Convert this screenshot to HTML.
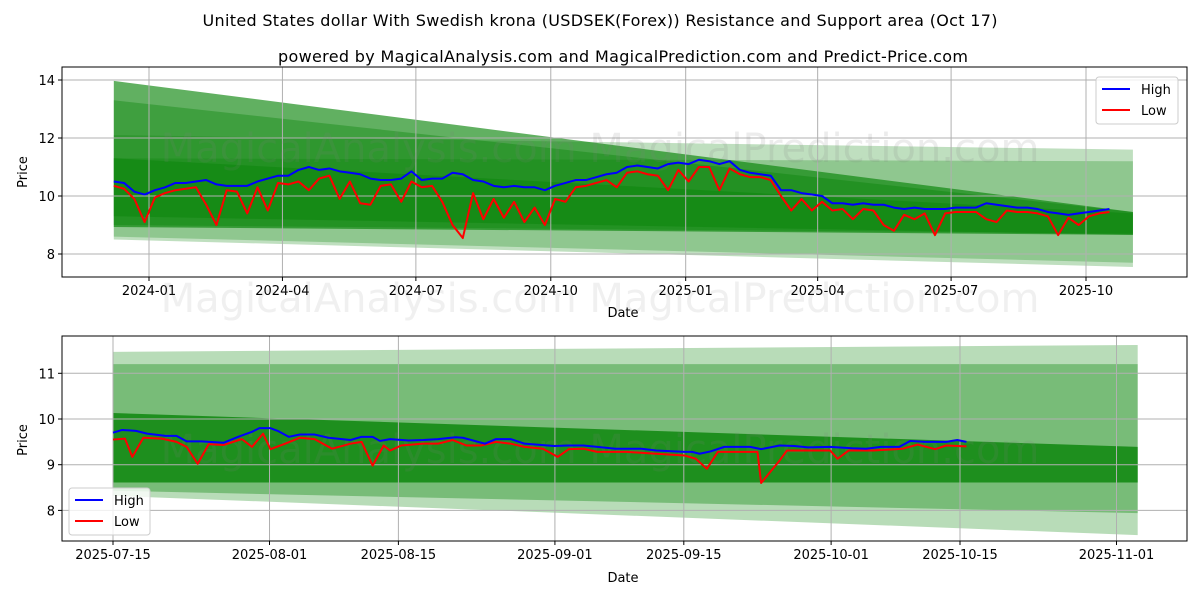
<!DOCTYPE html>
<html><head><meta charset="utf-8"><style>
html,body{margin:0;padding:0;background:#fff;}
svg{display:block;font-family:"DejaVu Sans","Liberation Sans",sans-serif;}
</style></head><body>
<svg id="c" width="1200" height="600" viewBox="0 0 1200 600" xmlns="http://www.w3.org/2000/svg">
<rect width="1200" height="600" fill="#fff"/>
<text x="600" y="26" text-anchor="middle" font-size="16" textLength="795">United States dollar With Swedish krona (USDSEK(Forex)) Resistance and Support area (Oct 17)</text>
<text x="623" y="62" text-anchor="middle" font-size="16" textLength="690">powered by MagicalAnalysis.com and MagicalPrediction.com and Predict-Price.com</text>
<g id="top"></g>
<g id="bot"></g>
</svg>
<script>
// ---- top chart data (weekly from 2023-12-08) ----
const topStart = "2023-12-08";
const topHigh = [10.5,10.45,10.15,10.05,10.2,10.3,10.45,10.45,10.5,10.55,10.4,10.35,10.35,10.35,10.5,10.6,10.7,10.7,10.9,11.0,10.9,10.95,10.85,10.8,10.75,10.6,10.55,10.55,10.6,10.85,10.55,10.6,10.6,10.8,10.75,10.55,10.5,10.35,10.3,10.35,10.3,10.3,10.2,10.35,10.45,10.55,10.55,10.65,10.75,10.8,11.0,11.05,11.0,10.95,11.1,11.15,11.1,11.25,11.2,11.1,11.2,10.9,10.8,10.75,10.7,10.2,10.2,10.1,10.05,10.0,9.75,9.75,9.7,9.75,9.7,9.7,9.6,9.55,9.6,9.55,9.55,9.55,9.6,9.6,9.6,9.75,9.7,9.65,9.6,9.6,9.55,9.45,9.4,9.35,9.4,9.45,9.5,9.55];
const topLow = [10.35,10.25,9.9,9.1,9.95,10.1,10.2,10.25,10.3,9.7,9.0,10.2,10.15,9.4,10.3,9.5,10.45,10.4,10.5,10.2,10.6,10.7,9.9,10.5,9.75,9.7,10.35,10.4,9.8,10.5,10.3,10.35,9.8,9.0,8.55,10.1,9.2,9.9,9.25,9.8,9.1,9.6,9.0,9.9,9.8,10.3,10.35,10.45,10.55,10.3,10.8,10.85,10.75,10.7,10.2,10.9,10.5,11.0,11.0,10.2,10.95,10.75,10.65,10.65,10.55,10.0,9.5,9.9,9.5,9.8,9.5,9.55,9.2,9.55,9.5,9.0,8.8,9.35,9.2,9.4,8.65,9.4,9.45,9.45,9.45,9.2,9.1,9.5,9.45,9.45,9.4,9.3,8.65,9.25,9.0,9.3,9.4,9.45];
const topTickLabels = ["2024-01","2024-04","2024-07","2024-10","2025-01","2025-04","2025-07","2025-10"];
const topYTicks = [8,10,12,14];
const topBandStart = "2023-12-08", topBandEnd = "2025-11-02";
const topBandTopStart = [13.97,13.3,12.1,11.3,11.3];
const topBandTopEnd   = [9.45,9.45,11.6,11.2,9.4];
const topBandBotStart = [8.93,9.3,8.5,8.6,9.0];
const topBandBotEnd   = [8.66,8.66,7.55,7.7,8.7];
const topBandAlpha    = [0.62,0.35,0.25,0.25,0.35];

// ---- bottom chart data (days since 2025-07-15) ----
const botStart = "2025-07-15";
const botHighDays = [0,1,2.5,3.7,5.7,6.9,8,9.6,12,13.6,15.1,15.9,17.1,17.9,19.1,20.3,21.9,23.4,25.8,27,28.2,29,30.1,32.1,33.7,35.3,37.2,38,40.4,41.6,43.2,44.7,47.9,49.5,51.1,52.6,54.6,57.4,59,62.1,62.9,63.7,64.9,66.4,68,69.2,70.4,72.4,74,75.5,77.9,80.3,81.8,83.4,85.4,86.6,88.2,90.5,91.7,92.7];
const botHighVals = [9.70,9.76,9.74,9.68,9.63,9.63,9.51,9.51,9.48,9.61,9.72,9.80,9.80,9.74,9.61,9.66,9.66,9.59,9.54,9.61,9.61,9.52,9.56,9.53,9.54,9.56,9.60,9.59,9.46,9.56,9.56,9.46,9.41,9.42,9.42,9.39,9.35,9.35,9.31,9.28,9.28,9.24,9.29,9.39,9.39,9.39,9.34,9.42,9.41,9.38,9.39,9.36,9.35,9.39,9.39,9.52,9.50,9.50,9.54,9.50];
const botLowDays = [0,1.3,2.1,3.3,5.3,6.9,8,9.2,10.4,12,14,15.1,16.3,17.1,18.7,20.3,21.9,23.8,25.8,27,28.2,29.4,30.1,31.3,33.7,35.3,36.9,38.4,40,41.6,43.2,44.7,46.7,48.3,49.5,51.1,52.6,55.8,59,62.1,63.3,64.5,65.7,68.4,70,70.4,72.4,73.2,75.5,77.9,78.7,79.9,82.6,85.8,87.4,89.3,90.5,92.7];
const botLowVals = [9.55,9.57,9.17,9.59,9.57,9.50,9.39,9.02,9.45,9.43,9.56,9.39,9.68,9.34,9.46,9.59,9.56,9.35,9.46,9.50,8.98,9.42,9.31,9.42,9.46,9.46,9.54,9.42,9.42,9.50,9.46,9.39,9.35,9.17,9.34,9.35,9.28,9.28,9.24,9.20,9.13,8.91,9.28,9.28,9.28,8.60,9.09,9.31,9.31,9.31,9.13,9.31,9.31,9.35,9.44,9.34,9.42,9.40];
const botTickLabels = ["2025-07-15","2025-08-01","2025-08-15","2025-09-01","2025-09-15","2025-10-01","2025-10-15","2025-11-01"];
const botYTicks = [8,9,10,11];
const botBandEndDay = 111.3;
const botBandTopStart = [11.47,11.2,10.13];
const botBandTopEnd   = [11.62,11.2,9.39];
const botBandBotStart = [8.32,8.43,8.61];
const botBandBotEnd   = [7.46,7.94,8.61];
const botBandAlpha    = [0.28,0.35,0.75];

const NS="http://www.w3.org/2000/svg";
function mk(parent,tag,attrs){const e=document.createElementNS(NS,tag);for(const k in attrs)e.setAttribute(k,attrs[k]);parent.appendChild(e);return e;}
const DAY=86400000;
function dnum(s){return Date.parse(s+"T00:00:00Z")/DAY;}

// ---------- TOP ----------
(function(){
  const g=document.getElementById('top');
  const L=62,R=1187,T=67,B=277;
  const x0=dnum("2024-01-01"),x1=dnum("2025-10-01");
  const X=d=>149+(d-x0)*(1086-149)/(x1-x0);
  const Y=v=>196-(v-10)*29;
  const bs=X(dnum(topBandStart)),be=X(dnum(topBandEnd));
  for(let i=0;i<topBandAlpha.length;i++){
    const p=mk(g,'polygon',{points:`${bs},${Y(topBandTopStart[i])} ${be},${Y(topBandTopEnd[i])} ${be},${Y(topBandBotEnd[i])} ${bs},${Y(topBandBotStart[i])}`,fill:'#008000','fill-opacity':topBandAlpha[i]});
    
    
  }
  topTickLabels.forEach(t=>{const x=X(dnum(t+"-01"));
    const l=mk(g,'line',{x1:x,x2:x,y1:T,y2:B,stroke:'#b0b0b0','stroke-width':1});
    
    
    mk(g,'line',{x1:x,x2:x,y1:B,y2:B+4,stroke:'#000'});
    const tx=mk(g,'text',{x:x,y:B+18,'text-anchor':'middle','font-size':13});tx.textContent=t;
    
    
  });
  topYTicks.forEach(v=>{const y=Y(v);
    const l=mk(g,'line',{x1:L,x2:R,y1:y,y2:y,stroke:'#b0b0b0','stroke-width':1});
    
    
    mk(g,'line',{x1:L-4,x2:L,y1:y,y2:y,stroke:'#000'});
    const tx=mk(g,'text',{x:L-7,y:y+5,'text-anchor':'end','font-size':13});tx.textContent=v;
    
    
  });
  const wm1=mk(g,'text',{x:600,y:162,'text-anchor':'middle','font-size':40,fill:'#808080','fill-opacity':0.15});wm1.textContent="MagicalAnalysis.com    MagicalPrediction.com";
  
  
  const s=dnum(topStart);
  const ptsH=topHigh.map((v,i)=>`${X(s+7*i)},${Y(v)}`).join(' ');
  const ptsL=topLow.map((v,i)=>`${X(s+7*i)},${Y(v)}`).join(' ');
  const pl=mk(g,'polyline',{points:ptsL,fill:'none',stroke:'#ff0000','stroke-width':2,'stroke-linejoin':'round'});
  
  
  const ph=mk(g,'polyline',{points:ptsH,fill:'none',stroke:'#0000ff','stroke-width':2,'stroke-linejoin':'round'});
  
  
  const fr=mk(g,'rect',{x:L,y:T,width:R-L,height:B-T,fill:'none',stroke:'#000','stroke-width':1});
  
  
  const yl=mk(g,'text',{x:27,y:172,'text-anchor':'middle','font-size':13,transform:'rotate(-90 27 172)'});yl.textContent="Price";
  
  
  const xl=mk(g,'text',{x:623,y:317,'text-anchor':'middle','font-size':13});xl.textContent="Date";
  
  
  const lg=mk(g,'g',{});
  
  
  mk(lg,'rect',{x:1096,y:77,width:82,height:47,rx:3,fill:'#fff','fill-opacity':0.8,stroke:'#ccc'});
  mk(lg,'line',{x1:1102,x2:1130,y1:89,y2:89,stroke:'#0000ff','stroke-width':2});
  mk(lg,'line',{x1:1102,x2:1130,y1:110,y2:110,stroke:'#ff0000','stroke-width':2});
  const t1=mk(lg,'text',{x:1141,y:94,'font-size':13});t1.textContent="High";
  
  
  const t2=mk(lg,'text',{x:1141,y:115,'font-size':13});t2.textContent="Low";
  
  
})();

// ---------- BOTTOM ----------
(function(){
  const g=document.getElementById('bot');
  const L=62,R=1187,T=336,B=541;
  const s=dnum(botStart);
  const X=d=>113+d*(960-113)/92;
  const Y=v=>419-(v-10)*45.7;
  const be=X(botBandEndDay);
  for(let i=0;i<botBandAlpha.length;i++){
    const p=mk(g,'polygon',{points:`${X(0)},${Y(botBandTopStart[i])} ${be},${Y(botBandTopEnd[i])} ${be},${Y(botBandBotEnd[i])} ${X(0)},${Y(botBandBotStart[i])}`,fill:'#008000','fill-opacity':botBandAlpha[i]});
    
    
  }
  botTickLabels.forEach(t=>{const x=X(dnum(t)-s);
    const l=mk(g,'line',{x1:x,x2:x,y1:T,y2:B,stroke:'#b0b0b0','stroke-width':1});
    
    
    mk(g,'line',{x1:x,x2:x,y1:B,y2:B+4,stroke:'#000'});
    const tx=mk(g,'text',{x:x,y:B+18,'text-anchor':'middle','font-size':13});tx.textContent=t;
    
    
  });
  botYTicks.forEach(v=>{const y=Y(v);
    const l=mk(g,'line',{x1:L,x2:R,y1:y,y2:y,stroke:'#b0b0b0','stroke-width':1});
    
    
    mk(g,'line',{x1:L-4,x2:L,y1:y,y2:y,stroke:'#000'});
    const tx=mk(g,'text',{x:L-7,y:y+5,'text-anchor':'end','font-size':13});tx.textContent=v;
    
    
  });
  const wm=mk(g,'text',{x:600,y:463,'text-anchor':'middle','font-size':40,fill:'#808080','fill-opacity':0.15});wm.textContent="MagicalAnalysis.com    MagicalPrediction.com";
  
  
  const wm2=mk(g,'text',{x:600,y:312,'text-anchor':'middle','font-size':40,fill:'#808080','fill-opacity':0.12});wm2.textContent="MagicalAnalysis.com    MagicalPrediction.com";
  
  
  const pl=mk(g,'polyline',{points:botLowDays.map((d,i)=>`${X(d)},${Y(botLowVals[i])}`).join(' '),fill:'none',stroke:'#ff0000','stroke-width':2,'stroke-linejoin':'round'});
  
  
  const ph=mk(g,'polyline',{points:botHighDays.map((d,i)=>`${X(d)},${Y(botHighVals[i])}`).join(' '),fill:'none',stroke:'#0000ff','stroke-width':2,'stroke-linejoin':'round'});
  
  
  const fr=mk(g,'rect',{x:L,y:T,width:R-L,height:B-T,fill:'none',stroke:'#000','stroke-width':1});
  
  
  const yl=mk(g,'text',{x:27,y:440,'text-anchor':'middle','font-size':13,transform:'rotate(-90 27 440)'});yl.textContent="Price";
  
  
  const xl=mk(g,'text',{x:623,y:582,'text-anchor':'middle','font-size':13});xl.textContent="Date";
  
  
  const lg=mk(g,'g',{});
  
  
  mk(lg,'rect',{x:69,y:488,width:81,height:47,rx:3,fill:'#fff','fill-opacity':0.8,stroke:'#ccc'});
  mk(lg,'line',{x1:75,x2:103,y1:500,y2:500,stroke:'#0000ff','stroke-width':2});
  mk(lg,'line',{x1:75,x2:103,y1:521,y2:521,stroke:'#ff0000','stroke-width':2});
  const t1=mk(lg,'text',{x:114,y:505,'font-size':13});t1.textContent="High";
  
  
  const t2=mk(lg,'text',{x:114,y:526,'font-size':13});t2.textContent="Low";
  
  
})();
</script>
</body></html>
